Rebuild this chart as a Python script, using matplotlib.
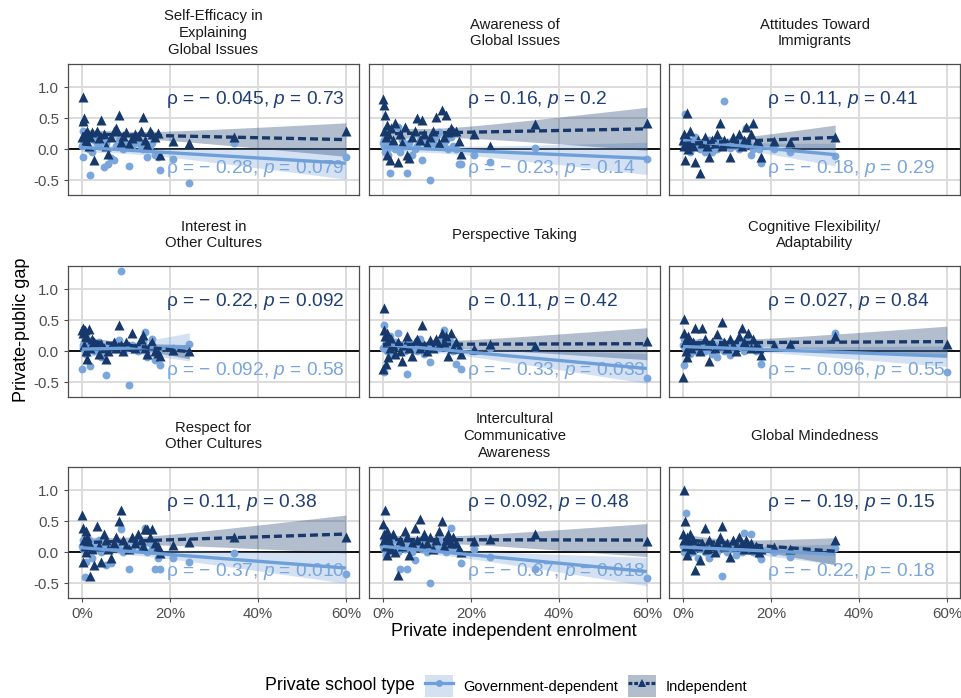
import numpy as np
import matplotlib
matplotlib.use("Agg")
import matplotlib.pyplot as plt
from matplotlib.lines import Line2D
from matplotlib.patches import Patch

plt.rcParams['font.family'] = ['Liberation Sans', 'DejaVu Sans']
plt.rcParams['mathtext.fontset'] = 'custom'
plt.rcParams['mathtext.rm'] = 'Liberation Sans'
plt.rcParams['mathtext.it'] = 'Liberation Sans:italic'

nan = np.nan

# ---------------- data ----------------
titles = ["Self-Efficacy in\nExplaining\nGlobal Issues", "Awareness of\nGlobal Issues",
          "Attitudes Toward\nImmigrants", "Interest in\nOther Cultures", "Perspective Taking",
          "Cognitive Flexibility/\nAdaptability", "Respect for\nOther Cultures",
          "Intercultural\nCommunicative\nAwareness", "Global Mindedness"]

# private independent enrolment share per country
enrol = [0.000, 0.001, 0.003, 0.004, 0.006, 0.008, 0.010, 0.012, 0.015, 0.018,
         0.022, 0.027, 0.033, 0.038, 0.044, 0.050, 0.055, 0.060, 0.066, 0.072,
         0.078, 0.084, 0.088, 0.094, 0.100, 0.107, 0.113, 0.120, 0.127, 0.133,
         0.138, 0.143, 0.148, 0.154, 0.160, 0.167, 0.172, 0.178, 0.206, 0.244,
         0.346, 0.600]

ind_selfeff = [0.20, 0.85, 0.45, 0.50, 0.25, 0.10, 0.15, 0.30, 0.05, 0.20,
               0.28, -0.17, 0.30, 0.18, 0.47, 0.25, 0.05, -0.08, 0.20, 0.30,
               0.35, 0.55, 0.12, 0.22, 0.28, 0.08, 0.18, 0.25, 0.22, 0.30,
               0.53, 0.15, 0.07, 0.30, 0.25, 0.20, 0.27, -0.10, 0.13, 0.10, 0.20, 0.30]
gov_selfeff = [0.05, -0.13, 0.30, 0.10, 0.10, 0.15, 0.05, 0.20, 0.00, -0.41,
               -0.05, 0.15, 0.10, 0.05, 0.20, -0.29, 0.10, -0.24, -0.14, -0.17,
               0.05, 0.15, 0.10, 0.00, 0.10, -0.27, 0.05, 0.10, 0.15, 0.05,
               0.00, 0.10, -0.13, 0.05, 0.10, -0.10, -0.12, -0.33, -0.15, -0.55, 0.10, -0.13]

ind_aware = [0.82, 0.72, 0.30, 0.55, 0.20, 0.40, -0.10, 0.25, -0.17, 0.35,
             0.15, 0.43, -0.20, 0.25, 0.10, 0.36, -0.10, -0.14, 0.20, 0.30,
             0.50, 0.15, 0.48, 0.25, 0.09, 0.20, 0.30, 0.52, 0.10, 0.63,
             0.20, 0.56, 0.28, 0.35, 0.30, 0.30, 0.14, -0.08, 0.24, 0.06, 0.41, 0.42]
gov_aware = [0.10, 0.05, 0.15, -0.05, 0.20, 0.00, 0.10, -0.10, -0.39, 0.05,
             0.10, 0.00, 0.36, -0.05, 0.15, 0.05, -0.39, 0.10, -0.10, 0.00,
             0.05, 0.15, -0.18, 0.12, 0.05, -0.50, 0.10, 0.20, 0.28, 0.05,
             0.10, 0.15, 0.00, 0.20, 0.05, 0.00, -0.24, -0.24, -0.10, -0.20, 0.02, -0.15]

ind_attit = [0.15, 0.05, 0.25, -0.17, 0.10, 0.59, 0.20, 0.00, 0.30, 0.10,
             0.05, -0.20, 0.15, -0.39, 0.10, 0.20, 0.05, -0.13, 0.15, 0.10,
             0.25, 0.43, 0.05, 0.15, 0.10, -0.13, 0.20, 0.10, 0.25, 0.05,
             0.15, 0.36, 0.10, 0.25, 0.43, 0.10, 0.10, -0.12, 0.14, 0.12, 0.20, nan]
gov_attit = [0.10, 0.15, 0.05, 0.57, 0.20, 0.00, 0.10, 0.15, -0.05, 0.05,
             0.10, 0.20, 0.04, 0.00, 0.10, -0.05, 0.05, 0.15, -0.05, 0.10,
             0.00, 0.15, 0.05, 0.78, 0.10, 0.02, 0.05, 0.10, 0.00, 0.15,
             0.05, 0.35, 0.10, -0.10, 0.00, 0.05, 0.00, -0.22, 0.00, -0.05, -0.11, nan]

ind_interest = [0.35, 0.30, 0.38, 0.10, 0.35, 0.00, 0.25, -0.12, 0.36, 0.05,
                0.20, 0.15, 0.10, -0.05, 0.12, 0.05, -0.12, 0.00, 0.08, 0.15,
                0.05, 0.43, 0.10, 0.00, 0.15, 0.08, 0.30, 0.05, 0.10, 0.20,
                0.26, 0.05, -0.05, 0.10, 0.15, 0.00, -0.02, -0.08, 0.02, 0.00, nan, nan]
gov_interest = [-0.29, 0.10, 0.05, 0.15, 0.00, 0.10, -0.05, 0.20, 0.05, -0.24,
                0.10, 0.00, 0.05, 0.15, -0.10, 0.05, -0.38, 0.00, 0.10, 0.05,
                0.15, 0.19, 1.30, 0.00, 0.05, -0.54, 0.10, 0.05, 0.00, 0.10,
                0.15, 0.31, -0.10, 0.05, 0.20, -0.14, 0.00, -0.22, 0.05, 0.11, nan, nan]

ind_persp = [-0.28, 0.35, 0.70, 0.25, -0.20, 0.15, 0.30, -0.10, 0.05, 0.20,
             0.10, -0.05, 0.15, 0.00, -0.15, 0.10, 0.25, 0.05, -0.08, 0.15,
             0.20, 0.05, 0.42, 0.10, 0.00, 0.18, 0.05, 0.20, 0.10, 0.30,
             0.15, 0.25, -0.07, 0.29, 0.05, 0.15, 0.05, -0.05, 0.03, 0.12, 0.09, 0.16]
gov_persp = [0.05, -0.33, 0.43, 0.10, 0.20, 0.00, 0.15, 0.05, 0.25, 0.10,
             -0.05, 0.15, 0.30, 0.05, 0.10, 0.00, -0.36, 0.15, 0.05, 0.10,
             0.00, 0.20, 0.10, -0.05, 0.05, -0.17, 0.10, 0.15, 0.05, 0.20,
             0.34, 0.10, 0.05, 0.15, 0.00, -0.21, 0.05, -0.28, 0.00, 0.05, 0.05, -0.44]

ind_cogflex = [-0.42, 0.30, 0.53, 0.15, 0.00, 0.20, -0.10, 0.25, 0.10, 0.05,
               0.15, 0.37, 0.10, 0.00, 0.37, 0.20, 0.10, -0.15, 0.15, 0.05,
               0.28, 0.10, 0.47, 0.15, 0.05, 0.20, 0.10, 0.00, 0.25, 0.37,
               0.15, 0.10, 0.30, 0.05, 0.20, 0.10, 0.05, -0.06, 0.10, 0.12, 0.25, 0.12]
gov_cogflex = [0.10, -0.23, 0.20, 0.05, 0.15, 0.00, 0.10, 0.05, -0.05, 0.15,
               0.10, 0.00, 0.05, 0.15, 0.10, 0.00, 0.05, 0.10, -0.05, 0.10,
               -0.10, 0.05, 0.15, 0.00, 0.10, -0.06, 0.05, 0.10, 0.15, 0.05,
               0.00, 0.20, 0.10, 0.05, 0.15, 0.00, 0.05, -0.20, 0.10, 0.10, 0.30, -0.33]

ind_respect = [0.60, -0.15, 0.40, 0.20, 0.10, 0.35, 0.00, 0.25, 0.15, -0.38,
               0.05, -0.20, 0.42, 0.10, -0.15, 0.30, 0.20, 0.05, -0.10, 0.15,
               0.25, 0.50, 0.69, 0.20, 0.10, 0.05, 0.25, 0.15, 0.30, 0.20,
               0.10, 0.38, 0.38, 0.25, 0.38, 0.15, 0.10, -0.01, 0.12, 0.16, 0.25, 0.25]
gov_respect = [0.10, 0.20, 0.05, 0.15, -0.40, 0.00, -0.15, 0.10, 0.20, 0.05,
               -0.10, 0.15, 0.05, 0.20, 0.00, 0.10, -0.20, 0.05, -0.18, 0.10,
               0.15, 0.05, 0.37, 0.00, 0.10, -0.27, 0.05, 0.15, 0.20, 0.05,
               0.10, 0.39, 0.00, 0.15, 0.05, -0.27, -0.10, -0.27, -0.10, -0.16, -0.01, -0.35]

ind_intercult = [0.45, 0.30, 0.20, 0.69, 0.10, 0.35, -0.05, 0.25, 0.15, 0.05,
                 0.30, 0.00, -0.36, 0.20, 0.10, 0.35, 0.25, -0.05, 0.15, 0.40,
                 0.20, 0.54, 0.10, 0.30, 0.15, 0.25, 0.05, 0.20, 0.35, 0.50,
                 0.10, 0.20, 0.30, 0.15, 0.25, 0.15, 0.05, 0.00, 0.18, 0.22, 0.30, 0.19]
gov_intercult = [0.10, 0.05, 0.20, 0.15, -0.05, 0.10, 0.00, 0.15, 0.05, 0.10,
                 0.20, 0.05, 0.00, -0.27, 0.10, 0.05, -0.27, 0.15, 0.00, -0.12,
                 0.10, 0.20, 0.05, 0.15, 0.00, -0.49, 0.10, 0.05, 0.20, 0.10,
                 0.15, 0.00, 0.10, 0.40, 0.05, 0.10, 0.00, -0.17, 0.05, -0.07, -0.27, -0.42]

ind_globmind = [0.30, 0.20, 1.00, 0.50, 0.10, 0.25, -0.05, 0.15, 0.30, 0.05,
                0.20, -0.29, 0.10, -0.13, 0.15, 0.40, 0.05, 0.20, 0.10, 0.00,
                0.15, 0.25, 0.43, 0.10, 0.15, -0.07, 0.20, 0.10, 0.25, 0.15,
                0.05, 0.20, 0.10, 0.15, 0.05, 0.10, 0.00, 0.05, 0.08, 0.05, 0.20, nan]
gov_globmind = [0.10, 0.00, 0.15, 0.05, 0.64, 0.10, 0.20, -0.05, 0.05, 0.10,
                0.00, 0.15, -0.10, 0.05, 0.10, 0.00, 0.05, -0.10, 0.10, 0.05,
                0.00, 0.10, -0.39, 0.05, 0.00, 0.10, 0.05, -0.05, 0.10, 0.00,
                0.31, 0.05, 0.10, 0.30, 0.00, 0.05, -0.05, -0.11, 0.00, -0.08, 0.07, nan]

ind_series = [ind_selfeff, ind_aware, ind_attit, ind_interest, ind_persp,
              ind_cogflex, ind_respect, ind_intercult, ind_globmind]
gov_series = [gov_selfeff, gov_aware, gov_attit, gov_interest, gov_persp,
              gov_cogflex, gov_respect, gov_intercult, gov_globmind]

ind_rho = ["\u2212 0.045", "0.16", "0.11", "\u2212 0.22", "0.11", "0.027", "0.11", "0.092", "\u2212 0.19"]
ind_p = ["0.73", "0.2", "0.41", "0.092", "0.42", "0.84", "0.38", "0.48", "0.15"]
gov_rho = ["\u2212 0.28", "\u2212 0.23", "\u2212 0.18", "\u2212 0.092", "\u2212 0.33",
           "\u2212 0.096", "\u2212 0.37", "\u2212 0.37", "\u2212 0.22"]
gov_p = ["0.079", "0.14", "0.29", "0.58", "0.033", "0.55", "0.010", "0.018", "0.18"]

x_ticks = [0.0, 0.2, 0.4, 0.6]
x_ticklabels = ["0%", "20%", "40%", "60%"]
y_ticks = [-0.5, 0.0, 0.5, 1.0]
y_ticklabels = ["-0.5", "0.0", "0.5", "1.0"]

# ---------------- style ----------------
GOV = "#7aa6dc"
GOV_LINE = "#6f9fd8"
IND = "#16386a"
IND_TXT = "#1f3f73"
W, H = 961, 698

fig = plt.figure(figsize=(W / 100, H / 100), dpi=100)

col_left = [68, 369, 669]
col_w = 291
row_top = [64, 266, 467]
row_h = 131


def fit_band(x, y, t=2.02):
    x = np.asarray(x, float)
    y = np.asarray(y, float)
    m = np.isfinite(x) & np.isfinite(y)
    x, y = x[m], y[m]
    b, a = np.polyfit(x, y, 1)
    xs = np.linspace(x.min(), x.max(), 100)
    yh = a + b * xs
    n = len(x)
    s = np.sqrt(np.sum((y - (a + b * x)) ** 2) / (n - 2))
    se = s * np.sqrt(1 / n + (xs - x.mean()) ** 2 / np.sum((x - x.mean()) ** 2))
    return xs, yh, yh - t * se, yh + t * se


for i in range(9):
    r, c = divmod(i, 3)
    ax = fig.add_axes([col_left[c] / W, 1 - (row_top[r] + row_h) / H, col_w / W, row_h / H])
    ax.set_xlim(-0.032, 0.63)
    ax.set_ylim(-0.74, 1.38)
    ax.set_axisbelow(True)
    ax.grid(True, color="#dcdcdc", linewidth=1.4)
    for sp in ax.spines.values():
        sp.set_color("#4d4d4d")
        sp.set_linewidth(0.9)
    ax.set_xticks(x_ticks)
    ax.set_yticks(y_ticks)
    ax.tick_params(colors="#4d4d4d", labelcolor="#4d4d4d", labelsize=10.8, length=3, width=0.8)
    if r == 2:
        ax.set_xticklabels(x_ticklabels)
    else:
        ax.set_xticklabels([])
        ax.tick_params(axis="x", length=0)
    if c == 0:
        ax.set_yticklabels(y_ticklabels)
    else:
        ax.set_yticklabels([])
        ax.tick_params(axis="y", length=0)

    ax.axhline(0, color="black", linewidth=1.3, zorder=1.2)

    ax.text(0.19, 0.80, f"ρ = {ind_rho[i]}, $p$ = {ind_p[i]}", color=IND_TXT,
            fontsize=13.8, va="center", ha="left", zorder=1.5)
    ax.text(0.19, -0.31, f"ρ = {gov_rho[i]}, $p$ = {gov_p[i]}", color=GOV,
            fontsize=13.8, va="center", ha="left", zorder=1.5)

    xg, yg, lg, ug = fit_band(enrol, gov_series[i])
    xi, yi, li, ui = fit_band(enrol, ind_series[i])
    ax.fill_between(xg, lg, ug, color=GOV, alpha=0.33, linewidth=0, zorder=2)
    ax.fill_between(xi, li, ui, color=IND, alpha=0.33, linewidth=0, zorder=2.1)

    ax.scatter(enrol, gov_series[i], s=32, color=GOV, marker="o", linewidths=0, zorder=3)
    ax.scatter(enrol, ind_series[i], s=52, color=IND, marker="^", linewidths=0, zorder=3.1)

    ax.plot(xg, yg, color=GOV_LINE, linewidth=2.4, solid_capstyle="butt", zorder=4)
    ax.plot(xi, yi, color=IND, linewidth=2.4, linestyle=(0, (2.4, 1.2)), zorder=4.1)

    # facet strip title, centred in a fixed-height strip above the panel
    fig.text((col_left[c] + col_w / 2) / W, 1 - (row_top[r] - 31) / H, titles[i],
             fontsize=10.7, color="#1a1a1a", ha="center", va="center",
             multialignment="center", linespacing=1.25)

fig.text(22 / W, 1 - 330 / H, "Private-public gap", rotation=90, fontsize=13,
         ha="center", va="center", color="black")
fig.text(514 / W, 1 - 631 / H, "Private independent enrolment", fontsize=13,
         ha="center", va="center", color="black")
fig.text(265 / W, 1 - 686 / H, "Private school type", fontsize=12.8,
         ha="left", va="center", color="black")

h_gov = (Patch(facecolor=GOV, alpha=0.33, edgecolor="none"),
         Line2D([], [], color=GOV_LINE, linewidth=2.3, marker="o", markersize=5, markeredgewidth=0))
h_ind = (Patch(facecolor=IND, alpha=0.33, edgecolor="none"),
         Line2D([], [], color=IND, linewidth=2.3, linestyle=(0, (1.2, 0.6)), marker="^",
                markersize=6, markeredgewidth=0))
leg = fig.legend([h_gov, h_ind], ["Government-dependent", "Independent"],
                 loc="center left", bbox_to_anchor=(425 / W, 1 - 686 / H), ncol=2,
                 frameon=False, fontsize=10.5, handlelength=1.9, handleheight=1.9,
                 handletextpad=0.7, columnspacing=0.7, borderaxespad=0, borderpad=0)

fig.savefig("out.png", dpi=100)
